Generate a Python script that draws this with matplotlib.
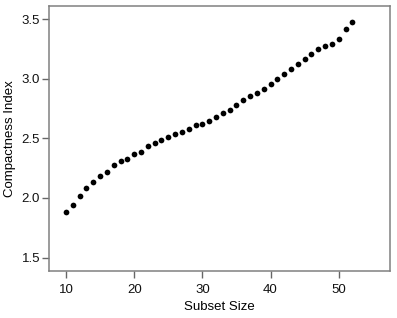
import matplotlib
matplotlib.use("Agg")
import matplotlib.pyplot as plt
import numpy as np

plt.rcParams['font.family'] = ['Liberation Sans', 'DejaVu Sans']

subset_size = np.arange(10, 53)
compactness = [1.885, 1.939, 2.014, 2.084, 2.134, 2.184, 2.220, 2.277, 2.313, 2.330,
               2.372, 2.388, 2.433, 2.458, 2.486, 2.514, 2.536, 2.556, 2.581, 2.609,
               2.623, 2.647, 2.681, 2.710, 2.738, 2.777, 2.819, 2.855, 2.883, 2.916,
               2.958, 2.997, 3.039, 3.084, 3.123, 3.168, 3.210, 3.246, 3.277, 3.288,
               3.335, 3.421, 3.472]
xticks = [10, 20, 30, 40, 50]
yticks = [1.5, 2.0, 2.5, 3.0, 3.5]

fig = plt.figure(figsize=(3.97, 3.18), dpi=100)
ax = fig.add_axes([0.1234, 0.149, 0.8586, 0.832])

ax.scatter(subset_size, compactness, s=17, c="black", linewidths=0)

ax.set_xlim(7.5, 57.5)
ax.set_ylim(1.39, 3.61)
ax.set_xticks(xticks)
ax.set_yticks(yticks)
ax.set_yticklabels([f"{v:.1f}" for v in yticks])

for sp in ax.spines.values():
    sp.set_color("#808080")
    sp.set_linewidth(1.1)
ax.tick_params(direction="out", length=5, width=1, color="#666666",
               labelsize=9.5, labelcolor="#111111")
ax.tick_params(axis="x", pad=4.5)
ax.tick_params(axis="y", pad=1.5)

ax.set_xlabel("Subset Size", fontsize=9.5, labelpad=4)
ax.set_ylabel("Compactness Index", fontsize=9.5, labelpad=4)

fig.savefig("out.png", dpi=100)
